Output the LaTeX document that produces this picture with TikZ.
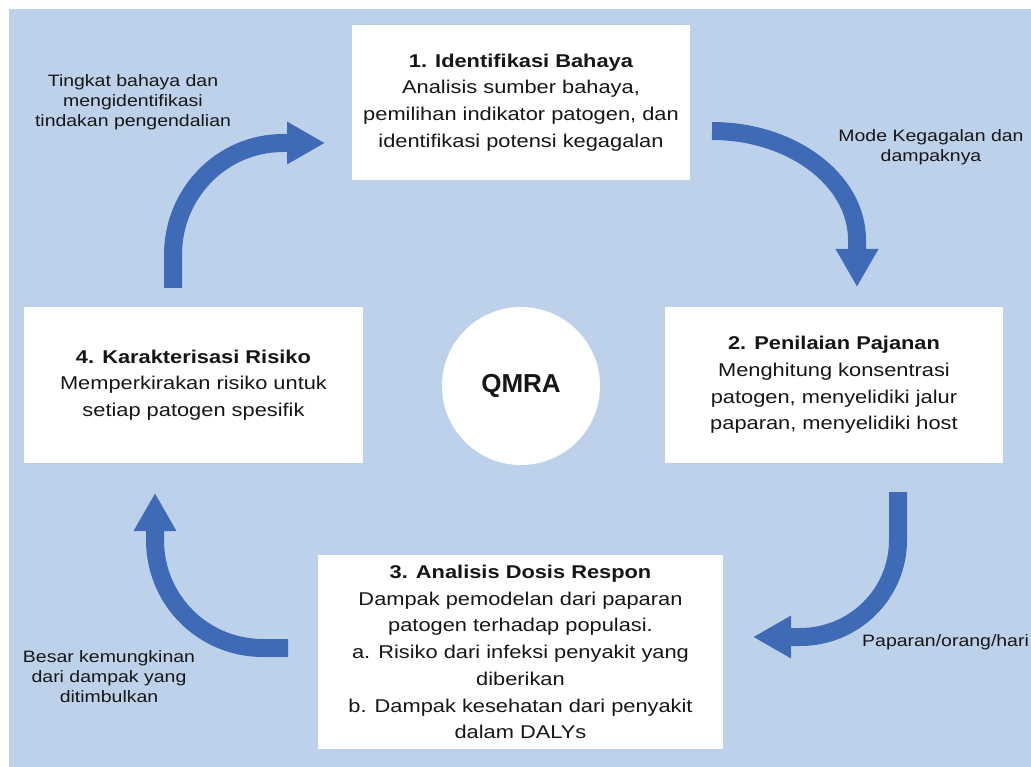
\documentclass[tikz,border=0pt]{standalone}
\usepackage{fontspec}
\setmainfont{Liberation Sans}[FakeStretch=1.18]
\newfontfamily\qmrafont{Liberation Sans}
\usetikzlibrary{arrows.meta}
\definecolor{bg}{RGB}{190,209,234}
\definecolor{flowblue}{RGB}{62,106,182}
\definecolor{ink}{RGB}{22,22,22}
\begin{document}
\begin{tikzpicture}[x=1pt,y=-1pt,
  card/.style={fill=white, inner sep=0pt, align=center, text=ink,
    font=\fontsize{18.5}{26.7}\selectfont},
  note/.style={align=center, text=ink, inner sep=0pt,
    font=\fontsize{16.5}{20}\selectfont},
  flow/.style={draw=flowblue, line width=18pt,
    -{Triangle[length=38pt,width=40pt]}}]

% canvas
\useasboundingbox (0,0) rectangle (1031,767);
\fill[white] (0,0) rectangle (1031,767);
\fill[bg] (9,9) rectangle (1031,767);

% the four stages
\node[card, minimum width=338pt, minimum height=155pt] (hazard) at (521,102.5)
  {\textbf{1. Identifikasi Bahaya}\\Analisis sumber bahaya,\\pemilihan indikator patogen, dan\\identifikasi potensi kegagalan};
\node[card, minimum width=338pt, minimum height=156pt] (exposure) at (834,385)
  {\textbf{2. Penilaian Pajanan}\\Menghitung konsentrasi\\patogen, menyelidiki jalur\\paparan, menyelidiki host};
\node[card, minimum width=405pt, minimum height=194pt] (dose) at (520.5,652)
  {\textbf{3. Analisis Dosis Respon}\\Dampak pemodelan dari paparan\\patogen terhadap populasi.\\a. Risiko dari infeksi penyakit yang\\diberikan\\b. Dampak kesehatan dari penyakit\\dalam DALYs};
\node[card, minimum width=339pt, minimum height=156pt] (risk) at (193.5,385)
  {\textbf{4. Karakterisasi Risiko}\\Memperkirakan risiko untuk\\setiap patogen spesifik};

% centre
\node[circle, fill=white, minimum size=158pt, inner sep=0pt, text=ink,
  font=\qmrafont\bfseries\fontsize{26}{30}\selectfont] (qmra) at (521,386) {QMRA};

% cycle arrows
\coordinate (a1s) at (173,288); \coordinate (a1e) at (325,143);
\coordinate (a2s) at (712,131); \coordinate (a2e) at (857,287);
\coordinate (a3s) at (898,492); \coordinate (a3e) at (753,637);
\coordinate (a4s) at (288,648); \coordinate (a4e) at (155,493);

\draw[flow] (a1s) -- (173,255) .. controls (173,193) and (222,143) .. (283,143) -- (a1e);
\draw[flow] (a2s) .. controls (792,131) and (857,180) .. (857,240) -- (a2e);
\draw[flow] (a3s) -- (898,540) .. controls (898,594) and (854,637) .. (800,637) -- (a3e);
\draw[flow] (a4s) -- (263,648) .. controls (203,648) and (155,600) .. (155,540) -- (a4e);

% arrow labels
\node[note] (l1) at (133,102) {Tingkat bahaya dan\\mengidentifikasi\\tindakan pengendalian};
\node[note] (l2) at (931,147) {Mode Kegagalan dan\\dampaknya};
\node[note, anchor=base west] (l3) at (862,646) {Paparan/orang/hari};
\node[note] (l4) at (109,677) {Besar kemungkinan\\dari dampak yang\\ditimbulkan};
\end{tikzpicture}
\end{document}
